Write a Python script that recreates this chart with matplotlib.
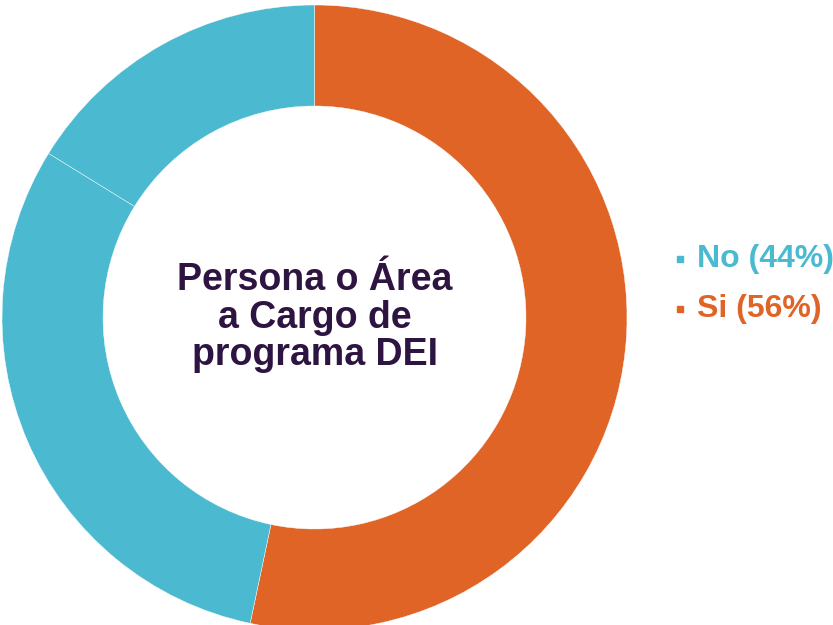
import matplotlib.pyplot as plt
from matplotlib.lines import Line2D

slice_values = [53.3, 30.5, 16.2]
slice_colors = ['#E06426', '#4BBAD0', '#4BBAD0']

legend_labels = ['No (44%)', 'Si (56%)']
legend_colors = ['#4BBAD0', '#E06426']

center_title = 'Persona o Área\na Cargo de\nprograma DEI'

W, H = 833, 625
fig = plt.figure(figsize=(W / 100, H / 100), dpi=100)

# ring: centre (314.5, 317.5) px, outer radius 312.5 px
cx, cy, r = 314.5, 317.5, 312.5
ax = fig.add_axes([(cx - r) / W, (H - cy - r) / H, 2 * r / W, 2 * r / H])
ax.pie(slice_values, colors=slice_colors, startangle=90, counterclock=False,
       radius=1.0, wedgeprops=dict(width=1 - 211.5 / 312.5, edgecolor='white', linewidth=0.3))
ax.set_xlim(-1, 1)
ax.set_ylim(-1, 1)
ax.set_aspect('equal')
ax.axis('off')

ax.text(0, 0.0, center_title, ha='center', va='center', fontsize=27,
        fontweight='bold', color='#2E1440', family='Liberation Sans', linespacing=1.06)

# legend
rows_y = [259, 309]
for lab, col, yy in zip(legend_labels, legend_colors, rows_y):
    fig.add_artist(Line2D([680 / W], [1 - yy / H], marker='s', markersize=4.5,
                          color=col, linestyle='none', transform=fig.transFigure))
    fig.text(697 / W, 1 - yy / H, lab, ha='left', va='center', fontsize=23,
             fontweight='bold', color=col, family='Liberation Sans')

fig.savefig('out.png', dpi=100)
